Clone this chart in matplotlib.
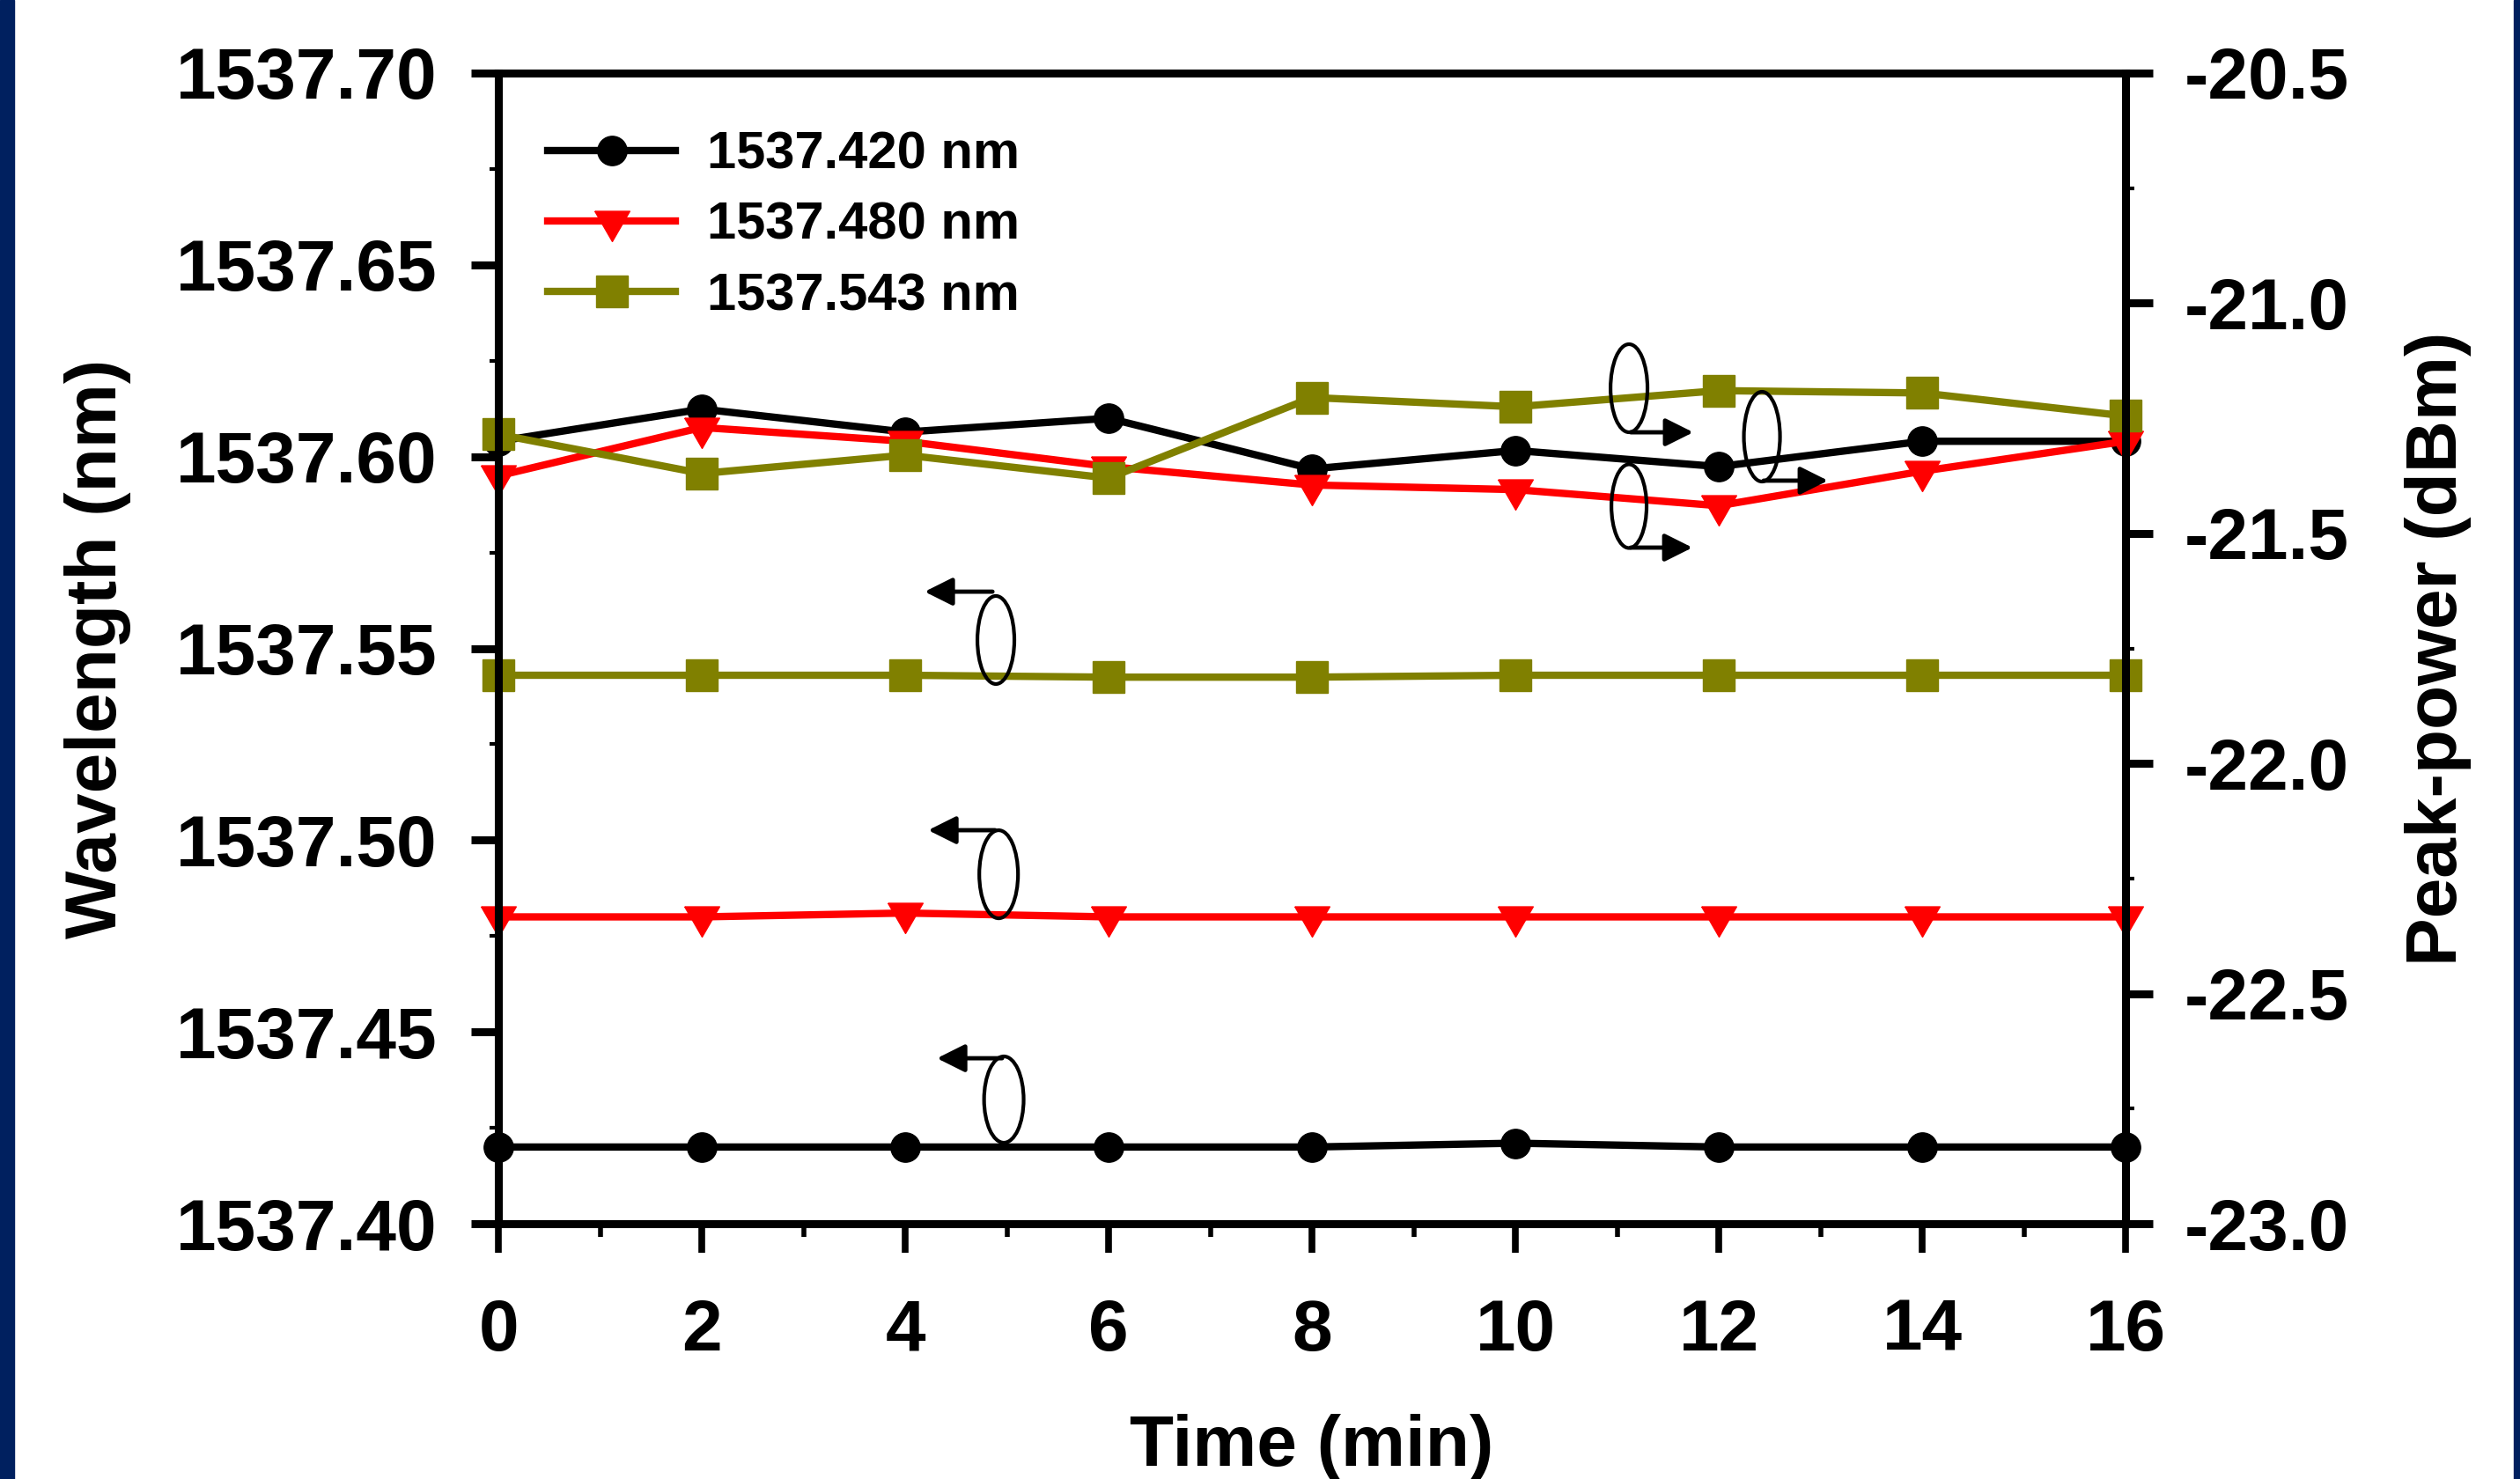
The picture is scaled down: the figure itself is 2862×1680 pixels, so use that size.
import numpy as np
import matplotlib.pyplot as plt
from matplotlib.patches import Ellipse, Rectangle

plt.rcParams['axes.unicode_minus'] = False
plt.rcParams['font.family'] = ['Liberation Sans', 'DejaVu Sans']
plt.rcParams['font.weight'] = 'bold'

# data
time_min = [0, 2, 4, 6, 8, 10, 12, 14, 16]
series_labels = ['1537.420 nm', '1537.480 nm', '1537.543 nm']

# peak wavelength (left axis, nm)
wl_420 = [1537.420, 1537.420, 1537.420, 1537.420, 1537.420, 1537.421, 1537.420, 1537.420, 1537.420]
wl_480 = [1537.480, 1537.480, 1537.481, 1537.480, 1537.480, 1537.480, 1537.480, 1537.480, 1537.480]
wl_543 = [1537.543, 1537.543, 1537.543, 1537.5425, 1537.5425, 1537.543, 1537.543, 1537.543, 1537.543]

# peak power (right axis, dBm)
pw_420 = [-21.30, -21.23, -21.28, -21.25, -21.36, -21.32, -21.355, -21.30, -21.30]
pw_480 = [-21.375, -21.27, -21.30, -21.355, -21.395, -21.405, -21.44, -21.365, -21.30]
pw_543 = [-21.285, -21.37, -21.33, -21.38, -21.205, -21.225, -21.19, -21.195, -21.245]

colors = ['#000000', '#FF0000', '#808000']
tri_down = [(-1, 0.5774), (1, 0.5774), (0, -1.1547), (-1, 0.5774)]
markers = ['o', tri_down, 's']
msizes = [24, 33, 26]

# ellipse + arrow markers telling which axis each group belongs to (axes fraction)
# cx, cy, w, h, x_tail, x_head, y_arrow
axis_marks = [
    (0.3057, 0.5073, 0.0227, 0.0765, 0.3036, 0.2619, 0.5493),
    (0.3074, 0.3037, 0.0238, 0.0765, 0.3052, 0.2641, 0.3420),
    (0.3106, 0.1079, 0.0243, 0.0750, 0.3095, 0.2695, 0.1438),
    (0.6948, 0.7261, 0.0227, 0.0765, 0.6959, 0.7343, 0.6878),
    (0.6948, 0.6236, 0.0216, 0.0727, 0.6959, 0.7338, 0.5876),
    (0.7765, 0.6840, 0.0222, 0.0780, 0.7776, 0.8171, 0.6458),
]

fig = plt.figure(figsize=(28.62, 16.8), dpi=100)
fig.patches.append(Rectangle((0, 0), 16 / 2862, 1, transform=fig.transFigure,
                             color='#00205F', zorder=0))
fig.patches.append(Rectangle((2855 / 2862, 0), 7 / 2862, 1, transform=fig.transFigure,
                             color='#00205F', zorder=0))

ax = fig.add_axes([0.1978, 0.1726, 0.6457, 0.7780])
ax2 = ax.twinx()

handles = []
for wl, c, m, ms, lab in zip([wl_420, wl_480, wl_543], colors, markers, msizes, series_labels):
    h, = ax.plot(time_min, wl, color=c, lw=6, marker=m, ms=ms, mec=c, mew=1,
                 clip_on=False, label=lab)
    handles.append(h)
for pw, c, m, ms in zip([pw_420, pw_480, pw_543], colors, markers, msizes):
    ax2.plot(time_min, pw, color=c, lw=6, marker=m, ms=ms, mec=c, mew=1, clip_on=False)

ax.set_xlim(0, 16)
ax.set_ylim(1537.40, 1537.70)
ax2.set_ylim(-23.0, -20.5)

ax.set_xticks(np.arange(0, 17, 2))
ax.set_xticks(np.arange(1, 16, 2), minor=True)
ax.set_yticks(np.arange(1537.40, 1537.701, 0.05))
ax.set_yticks(np.arange(1537.425, 1537.70, 0.05), minor=True)
ax.set_yticklabels([f'{v:.2f}' for v in np.arange(1537.40, 1537.701, 0.05)])
ax2.set_yticks(np.arange(-23.0, -20.49, 0.5))
ax2.set_yticks(np.arange(-22.75, -20.5, 0.5), minor=True)
ax2.set_yticklabels([f'{v:.1f}' for v in np.arange(-23.0, -20.49, 0.5)])

for a in (ax, ax2):
    for s in a.spines.values():
        s.set_linewidth(6.5)
ax.tick_params(axis='x', which='major', direction='out', length=24, width=5.5, pad=37, labelsize=59)
ax.tick_params(axis='x', which='minor', direction='out', length=11, width=4)
ax.tick_params(axis='y', which='major', direction='out', length=22, width=6.5, pad=28, labelsize=59)
ax.tick_params(axis='y', which='minor', direction='out', length=7, width=3)
ax2.tick_params(axis='y', which='major', direction='out', length=22, width=6.5, pad=26, labelsize=59)
ax2.tick_params(axis='y', which='minor', direction='out', length=7, width=3)

ax.set_xlabel('Time (min)', fontsize=59, fontweight='bold')
ax.set_ylabel('Wavelength (nm)', fontsize=59, fontweight='bold')
ax2.set_ylabel('Peak-power (dBm)', fontsize=59, fontweight='bold')
ax.xaxis.set_label_coords(0.5, -0.1944)
ax.xaxis.label.set_va('center')
ax.yaxis.set_label_coords(-0.246, 0.5)
ax.yaxis.label.set_va('center')
ax2.yaxis.set_label_coords(1.192, 0.5)
ax2.yaxis.label.set_va('center')

for cx, cy, w, h, xt, xh, ya in axis_marks:
    ax2.add_patch(Ellipse((cx, cy), w, h, transform=ax2.transAxes, fill=False,
                          ec='black', lw=3, zorder=10))
    ax2.annotate('', xy=(xh, ya), xytext=(xt, ya), xycoords='axes fraction',
                 arrowprops=dict(arrowstyle='-|>', color='black', lw=3.5,
                                 mutation_scale=48, shrinkA=0, shrinkB=0), zorder=10)

ax2.legend(handles=handles, loc='upper left', bbox_to_anchor=(0.0303, 0.9496),
           frameon=False, fontsize=43, numpoints=1, handlelength=2.43,
           handletextpad=0.6, labelspacing=0.42, borderpad=0, borderaxespad=0)

fig.savefig('out.png', dpi=100)
